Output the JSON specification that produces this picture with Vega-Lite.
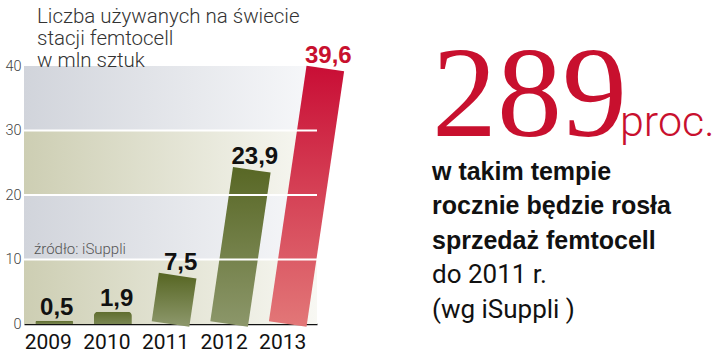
{
  "$schema": "https://vega.github.io/schema/vega-lite/v6.json",
  "padding": {"left": 4, "top": 7, "right": 0, "bottom": 0},
  "background": "white",
  "config": {"view": {"stroke": null}, "font": "Roboto"},
  "bounds": "flush",
  "spacing": 115,
  "datasets": {
    "sales": [
      {"year": "2009", "start": 0, "value": 0.5, "label": "0,5"},
      {"year": "2010", "start": 0, "value": 1.9, "label": "1,9"},
      {"year": "2011", "start": 0, "value": 7.5, "label": "7,5"},
      {"year": "2012", "start": 0, "value": 23.9, "label": "23,9"},
      {"year": "2013", "start": 0, "value": 39.6, "label": "39,6"}
    ],
    "bands": [
      {"lo": 0, "hi": 10, "tone": "olive"},
      {"lo": 10, "hi": 20, "tone": "gray"},
      {"lo": 20, "hi": 30, "tone": "olive"},
      {"lo": 30, "hi": 40, "tone": "gray"}
    ],
    "grid": [{"g": 10}, {"g": 20}, {"g": 30}],
    "notes": [{"t": "źródło: iSuppli"}],
    "side": [
      {"line": 0, "text": "289", "kind": "big"},
      {"line": 0, "text": "proc.", "kind": "unit"},
      {"line": 1, "text": "w takim tempie", "kind": "bold"},
      {"line": 2, "text": "rocznie będzie rosła", "kind": "bold"},
      {"line": 3, "text": "sprzedaż femtocell", "kind": "bold"},
      {"line": 4, "text": "do 2011 r.", "kind": "reg"},
      {"line": 5, "text": "(wg iSuppli )", "kind": "reg"}
    ]
  },
  "hconcat": [
    {
      "width": 293,
      "height": 258,
      "title": {
        "text": ["Liczba używanych na świecie", "stacji femtocell", "w mln sztuk"],
        "anchor": "start",
        "frame": "group",
        "dx": 13,
        "offset": -48,
        "baseline": "bottom",
        "lineHeight": 22,
        "font": "Roboto",
        "fontSize": 20.5,
        "fontWeight": 300,
        "color": "#333333"
      },
      "layer": [
        {
          "data": {"name": "bands"},
          "transform": [{"filter": "datum.tone === 'olive'"}],
          "mark": {"type": "rect", "color": {"gradient": "linear", "x1": 0, "y1": 0, "x2": 1, "y2": 0, "stops": [{"offset": 0, "color": "#cdceb3"}, {"offset": 1, "color": "#f8f8f3"}]}},
          "encoding": {
            "y": {"field": "lo", "type": "quantitative", "scale": {"domain": [0, 40]},
              "axis": {"title": null, "values": [0, 10, 20, 30, 40], "grid": false, "domain": false, "ticks": false, "labelFontSize": 14.5, "labelColor": "#444444", "labelFontWeight": 300, "labelPadding": 3, "labelFont": "Roboto"}},
            "y2": {"field": "hi"}
          }
        },
        {
          "data": {"name": "bands"},
          "transform": [{"filter": "datum.tone === 'gray'"}],
          "mark": {"type": "rect", "color": {"gradient": "linear", "x1": 0, "y1": 0, "x2": 1, "y2": 0, "stops": [{"offset": 0, "color": "#d1d4db"}, {"offset": 1, "color": "#f7f8fa"}]}},
          "encoding": {
            "y": {"field": "lo", "type": "quantitative"},
            "y2": {"field": "hi"}
          }
        },
        {
          "data": {"name": "sales"},
          "transform": [{"filter": "datum.value < 5"}],
          "mark": {"type": "bar", "width": 38, "xOffset": 1, "cornerRadiusTopLeft": 4, "cornerRadiusTopRight": 4,
            "color": {"gradient": "linear", "x1": 0, "y1": 0, "x2": 0, "y2": 1, "stops": [{"offset": 0, "color": "#5f6d2e"}, {"offset": 1, "color": "#7a8752"}]}},
          "encoding": {
            "x": {"field": "year", "type": "nominal", "sort": null,
              "scale": {"paddingInner": 0, "paddingOuter": 0},
              "axis": {"title": null, "labelAngle": 0, "ticks": false, "domainColor": "#111111", "domainWidth": 1.5, "labelFontSize": 21, "labelColor": "#111111", "labelPadding": 7, "labelOffset": -5, "labelFont": "Roboto"}},
            "y": {"field": "value", "type": "quantitative"}
          }
        },
        {
          "data": {"name": "sales"},
          "transform": [{"filter": "datum.value >= 5 && datum.year !== '2013'"}, {"fold": ["start", "value"], "as": ["end", "v"]}],
          "mark": {"type": "line", "strokeWidth": 38, "strokeCap": "butt", "strokeJoin": "bevel",
            "stroke": {"gradient": "linear", "x1": 0, "y1": 0, "x2": 0, "y2": 1, "stops": [{"offset": 0, "color": "#596826"}, {"offset": 1, "color": "#8b9669"}]}},
          "encoding": {
            "x": {"field": "year", "type": "nominal"},
            "xOffset": {"field": "v", "type": "quantitative", "scale": {"domain": [0, 40], "range": [29.3, 67.3]}},
            "y": {"field": "v", "type": "quantitative"},
            "detail": {"field": "year"}
          }
        },
        {
          "data": {"name": "sales"},
          "transform": [{"filter": "datum.year === '2013'"}, {"fold": ["start", "value"], "as": ["end", "v"]}],
          "mark": {"type": "line", "strokeWidth": 38, "strokeCap": "butt", "strokeJoin": "bevel",
            "stroke": {"gradient": "linear", "x1": 0, "y1": 0, "x2": 0, "y2": 1, "stops": [{"offset": 0, "color": "#c90f36"}, {"offset": 1, "color": "#e27677"}]}},
          "encoding": {
            "x": {"field": "year", "type": "nominal"},
            "xOffset": {"field": "v", "type": "quantitative"},
            "y": {"field": "v", "type": "quantitative"},
            "detail": {"field": "year"}
          }
        },
        {
          "data": {"name": "grid"},
          "mark": {"type": "rule", "color": "white", "strokeWidth": 2, "x2Offset": 26},
          "encoding": {"y": {"field": "g", "type": "quantitative"}}
        },
        {
          "data": {"name": "sales"},
          "mark": {"type": "text", "font": "Liberation Sans", "fontWeight": "bold", "fontSize": 24, "baseline": "alphabetic", "dy": -6, "dx": 3, "align": "center"},
          "encoding": {
            "x": {"field": "year", "type": "nominal"},
            "y": {"field": "value", "type": "quantitative"},
            "xOffset": {"field": "value", "type": "quantitative"},
            "text": {"field": "label"},
            "color": {"condition": {"test": "datum.year === '2013'", "value": "#c8102e"}, "value": "#111111"}
          }
        },
        {
          "data": {"name": "notes"},
          "mark": {"type": "text", "font": "Roboto", "fontWeight": 300, "fontSize": 15, "color": "#555555", "align": "left", "baseline": "alphabetic", "dx": 10},
          "encoding": {
            "x": {"datum": "2009", "type": "nominal", "bandPosition": 0},
            "y": {"datum": 10.85, "type": "quantitative"},
            "text": {"field": "t"}
          }
        }
      ]
    },
    {
      "width": 289,
      "height": 258,
      "data": {"name": "side"},
      "encoding": {
        "x": {"datum": 0, "type": "quantitative", "scale": {"domain": [0, 1]}, "axis": null},
        "y": {"field": "line", "type": "quantitative", "scale": {"domain": [-2.304, 5.174], "reverse": true, "nice": false, "zero": false}, "axis": null},
        "text": {"field": "text"}
      },
      "layer": [
        {
          "transform": [{"filter": "datum.kind === 'big'"}],
          "mark": {"type": "text", "font": "Liberation Serif", "fontSize": 130, "color": "#c8102e", "align": "left", "baseline": "alphabetic", "dy": -9.5}
        },
        {
          "transform": [{"filter": "datum.kind === 'unit'"}],
          "mark": {"type": "text", "font": "Roboto", "fontWeight": 300, "fontSize": 43, "color": "#c8102e", "align": "left", "baseline": "alphabetic", "dy": -9.5, "dx": 188}
        },
        {
          "transform": [{"filter": "datum.kind === 'bold'"}],
          "mark": {"type": "text", "font": "Liberation Sans", "fontWeight": "bold", "fontSize": 25, "color": "#111111", "align": "left", "baseline": "alphabetic"}
        },
        {
          "transform": [{"filter": "datum.kind === 'reg'"}],
          "mark": {"type": "text", "font": "Roboto", "fontSize": 26, "color": "#111111", "align": "left", "baseline": "alphabetic"}
        }
      ]
    }
  ]
}
